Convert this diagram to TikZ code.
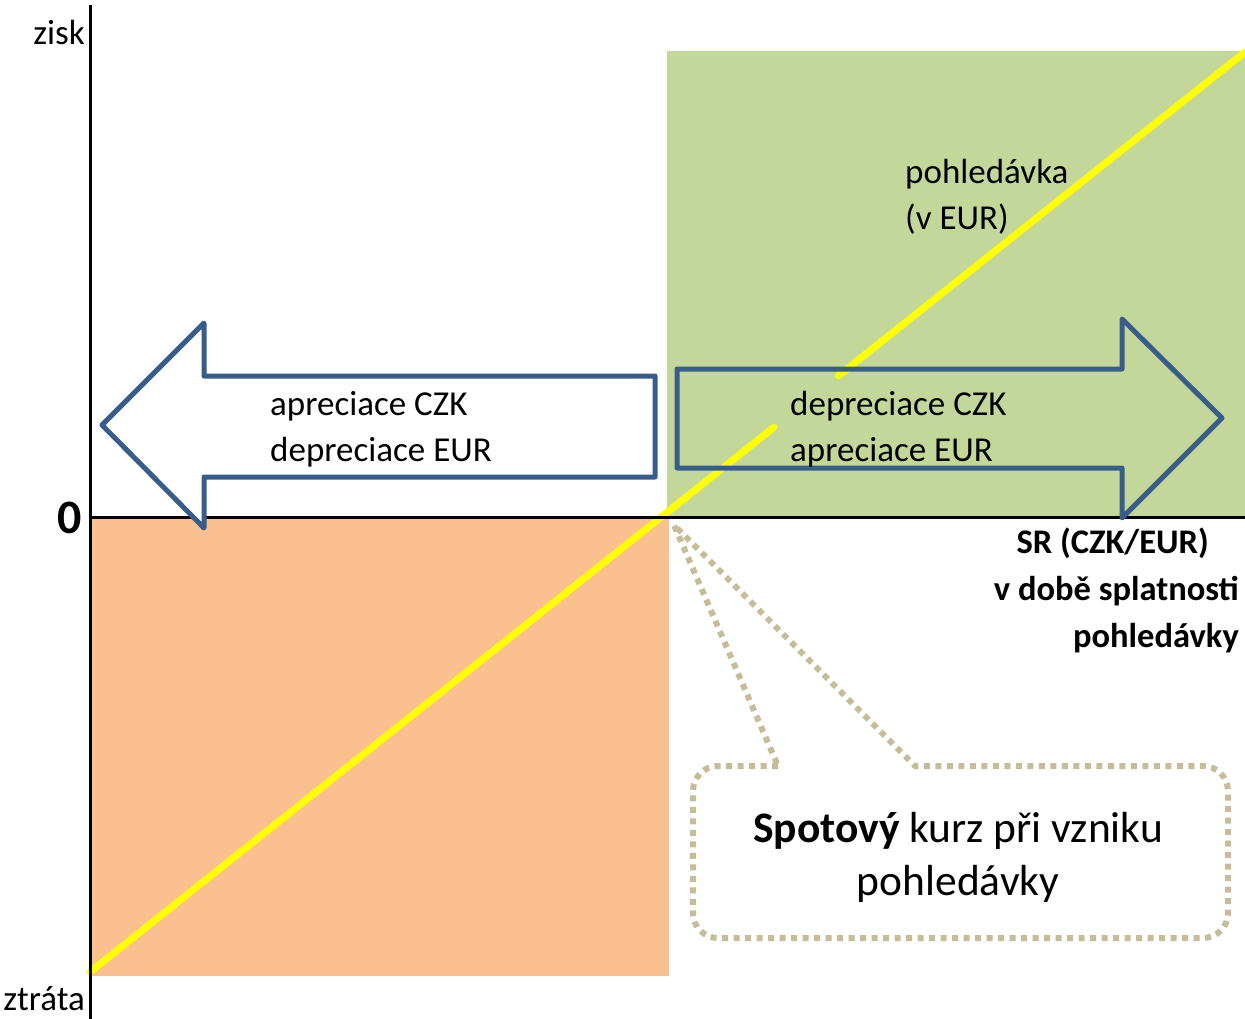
\documentclass[tikz,border=0pt]{standalone}
\usepackage{fontspec}
\setmainfont{Carlito}
\usetikzlibrary{calc}
\definecolor{zgreen}{HTML}{C4D79B}
\definecolor{zorange}{HTML}{FAC090}
\definecolor{zblue}{HTML}{385D8A}
\definecolor{ztan}{HTML}{C4BD97}
\definecolor{zyellow}{HTML}{FFFF00}
\tikzset{
  axisline/.style={line width=3pt, black},
  bigarrow/.style={draw=zblue, line width=5pt, line join=round},
  lbl/.style={inner sep=0pt, font=\fontsize{35}{46}\selectfont},
  callout/.style={draw=ztan, line width=6pt, dash pattern=on 6pt off 5.5pt},
  profit/.style={draw=zyellow, line width=7pt, line cap=round}
}
\begin{document}
\begin{tikzpicture}[x=1pt,y=-1pt]
\useasboundingbox (0,0) rectangle (1245,1019);
% quadrants
\fill[zgreen] (667,51) rectangle (1245,517);
\fill[zorange] (90,517) rectangle (669,976);
% profit line
\coordinate (L1) at (90,972);
\coordinate (L2) at (1245,52);
\draw[profit] (L1) -- ($(L1)!0.592!(L2)$);
\draw[profit] ($(L1)!0.648!(L2)$) -- (L2);
% axes
\draw[axisline] (90,5) -- (90,1019);
\draw[axisline] (90,517) -- (1245,517);
% left arrow
\draw[bigarrow, fill=white] (102,425) -- (204,323) -- (204,376) -- (655,376) -- (655,477) -- (204,477) -- (204,528) -- cycle;
% right arrow
\draw[bigarrow] (1222,418) -- (1122,319) -- (1122,369) -- (677,369) -- (677,468) -- (1122,468) -- (1122,518) -- cycle;
% callout
\coordinate (tip) at (674,525);
\draw[callout] (778,766) -- (718,766) arc[start angle=270, end angle=180, radius=25]
  -- (693,913) arc[start angle=180, end angle=90, radius=25]
  -- (1203,938) arc[start angle=90, end angle=0, radius=25]
  -- (1228,791) arc[start angle=0, end angle=-90, radius=25]
  -- (915,766) -- (tip) -- cycle;
% labels
\node[lbl, anchor=east] (zisk) at (85,32) {zisk};
\node[lbl, anchor=east] (ztrata) at (85,999) {ztráta};
\node[inner sep=0pt, font=\fontsize{48}{50}\selectfont\bfseries] (zero) at (70,518) {0};
\node[lbl, anchor=west, align=left] (lefttxt) at (270,429) {apreciace CZK\\depreciace EUR};
\node[lbl, anchor=west, align=left] (righttxt) at (790,429) {depreciace CZK\\apreciace EUR};
\node[lbl, anchor=west, align=left] (pohl) at (905,197) {pohledávka\\(v EUR)};
\node[inner sep=0pt, font=\fontsize{34.5}{47}\selectfont\bfseries, anchor=east, align=right] (sr) at (1239,590) {SR (CZK/EUR)\hspace*{30pt}\\v době splatnosti\\pohledávky};
\node[inner sep=0pt, font=\fontsize{43.5}{53}\selectfont, align=center] (spot) at (958,857) {\textbf{Spotový} kurz při vzniku\\pohledávky};
\end{tikzpicture}
\end{document}
